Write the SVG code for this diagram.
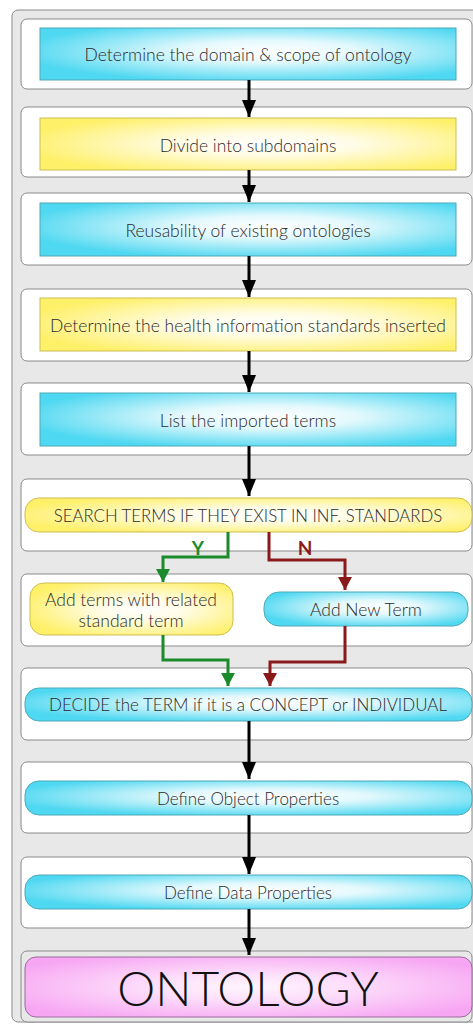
<svg xmlns="http://www.w3.org/2000/svg" width="473" height="1025" viewBox="0 0 473 1025">
<defs>
<radialGradient id="gc" cx="0.55" cy="0.45" r="0.6">
<stop offset="0" stop-color="#ffffff"/>
<stop offset="0.35" stop-color="#e4f9fd"/>
<stop offset="1" stop-color="#4fd8f1"/>
</radialGradient>
<radialGradient id="gy" cx="0.55" cy="0.5" r="0.6">
<stop offset="0" stop-color="#ffffff"/>
<stop offset="0.35" stop-color="#fffce6"/>
<stop offset="1" stop-color="#fff06a"/>
</radialGradient>
<radialGradient id="gp" cx="0.5" cy="0.5" r="0.6">
<stop offset="0" stop-color="#fff6fe"/>
<stop offset="0.35" stop-color="#fde0fb"/>
<stop offset="1" stop-color="#f7a6f3"/>
</radialGradient>
<marker id="ab" markerUnits="userSpaceOnUse" markerWidth="18" markerHeight="14" refX="17" refY="7" orient="auto" viewBox="0 0 18 14">
<path d="M0,0 L17,7 L0,14 Z" fill="#000"/>
</marker>
<marker id="ag" markerUnits="userSpaceOnUse" markerWidth="14" markerHeight="14" refX="13" refY="7" orient="auto" viewBox="0 0 14 14">
<path d="M0,0 L13,7 L0,14 Z" fill="#1a8a2a"/>
</marker>
<marker id="ar" markerUnits="userSpaceOnUse" markerWidth="14" markerHeight="14" refX="13" refY="7" orient="auto" viewBox="0 0 14 14">
<path d="M0,0 L13,7 L0,14 Z" fill="#8a1a1a"/>
</marker>
</defs>
<style>
.row{fill:#fff;stroke:#8a8a8a;stroke-width:1}
.cy{fill:url(#gc);stroke:#4fa9b8;stroke-width:1}
.ye{fill:url(#gy);stroke:#cdbd52;stroke-width:1}
.t{font-family:Lato,"Open Sans","DejaVu Sans",sans-serif;font-size:17.5px;font-weight:300;fill:#2a2a2a;text-anchor:middle;dominant-baseline:central}
.bl{fill:none;stroke:#000;stroke-width:3}
.gr{fill:none;stroke:#1a8a2a;stroke-width:3}
.rd{fill:none;stroke:#8a1a1a;stroke-width:3}
.lab{font-family:Lato,"DejaVu Sans",sans-serif;font-size:19px;font-weight:bold;text-anchor:middle;dominant-baseline:central}
</style>
<rect x="12" y="10" width="470" height="1012" rx="6" fill="#e8e8e8" stroke="#8a8a8a"/>
<g id="rows">
<rect class="row" x="21" y="19" width="451" height="70" rx="6"/>
<rect class="row" x="21" y="107" width="451" height="70" rx="6"/>
<rect class="row" x="21" y="193" width="451" height="72" rx="6"/>
<rect class="row" x="21" y="289" width="451" height="72" rx="6"/>
<rect class="row" x="21" y="383" width="451" height="72" rx="6"/>
<rect class="row" x="21" y="479" width="451" height="72" rx="6"/>
<rect class="row" x="21" y="574" width="451" height="72" rx="6"/>
<rect class="row" x="21" y="668" width="451" height="72" rx="6"/>
<rect class="row" x="21" y="762" width="451" height="71" rx="6"/>
<rect class="row" x="21" y="857" width="451" height="71" rx="6"/>
<rect x="21" y="951" width="451" height="71" rx="6" fill="#e8e8e8" stroke="#8a8a8a"/>
</g>
<g id="n1"><rect class="cy" x="40" y="28" width="416" height="52"/><text class="t" x="248" y="54">Determine the domain &amp; scope of ontology</text></g>
<g id="n2"><rect class="ye" x="40" y="118" width="416" height="52"/><text class="t" x="248" y="145">Divide into subdomains</text></g>
<g id="n3"><rect class="cy" x="40" y="203" width="416" height="53"/><text class="t" x="248" y="230">Reusability of existing ontologies</text></g>
<g id="n4"><rect class="ye" x="40" y="298" width="416" height="53"/><text class="t" x="248" y="325">Determine the health information standards inserted</text></g>
<g id="n5"><rect class="cy" x="40" y="393" width="416" height="53"/><text class="t" x="248" y="420">List the imported terms</text></g>
<g id="n6"><rect class="ye" x="25" y="498" width="447" height="34" rx="14"/><text class="t" x="248" y="515" style="font-size:16.8px">SEARCH TERMS IF THEY EXIST IN INF. STANDARDS</text></g>
<g id="n7"><rect class="ye" x="30" y="583" width="203" height="52" rx="14"/><text class="t" x="131" y="599">Add terms with related</text><text class="t" x="131" y="620">standard term</text></g>
<g id="n8"><rect class="cy" x="264" y="592" width="204" height="34" rx="15"/><text class="t" x="366" y="609">Add New Term</text></g>
<g id="n9"><rect class="cy" x="25" y="688" width="447" height="33" rx="14"/><text class="t" x="248" y="704" style="font-size:17px">DECIDE the TERM if it is a CONCEPT or INDIVIDUAL</text></g>
<g id="n10"><rect class="cy" x="25" y="781" width="447" height="34" rx="14"/><text class="t" x="248" y="798" style="font-size:17px">Define Object Properties</text></g>
<g id="n11"><rect class="cy" x="25" y="875" width="447" height="34" rx="14"/><text class="t" x="248" y="892" style="font-size:17px">Define Data Properties</text></g>
<g id="n12"><rect x="25" y="957" width="447" height="60" rx="11" fill="url(#gp)" stroke="#9a6a9a"/><text class="t" x="248" y="987" style="font-size:48px;fill:#111">ONTOLOGY</text></g>
<g id="connectors">
<path class="bl" d="M249,80 V117" marker-end="url(#ab)"/>
<path class="bl" d="M249,170 V202" marker-end="url(#ab)"/>
<path class="bl" d="M249,256 V297" marker-end="url(#ab)"/>
<path class="bl" d="M249,351 V392" marker-end="url(#ab)"/>
<path class="bl" d="M249,446 V496" marker-end="url(#ab)"/>
<path class="gr" d="M228,532 V557 H163 V582" marker-end="url(#ag)"/>
<path class="rd" d="M269,532 V560 H345 V590" marker-end="url(#ar)"/>
<path class="gr" d="M163,635 V660 H228 V686" marker-end="url(#ag)"/>
<path class="rd" d="M345,626 V662 H270 V686" marker-end="url(#ar)"/>
<path class="bl" d="M249,721 V779" marker-end="url(#ab)"/>
<path class="bl" d="M249,815 V874" marker-end="url(#ab)"/>
<path class="bl" d="M249,909 V955" marker-end="url(#ab)"/>
<text class="lab" x="198" y="547" fill="#1a8a2a">Y</text>
<text class="lab" x="305" y="547" fill="#8a1a1a">N</text>
</g>
</svg>
